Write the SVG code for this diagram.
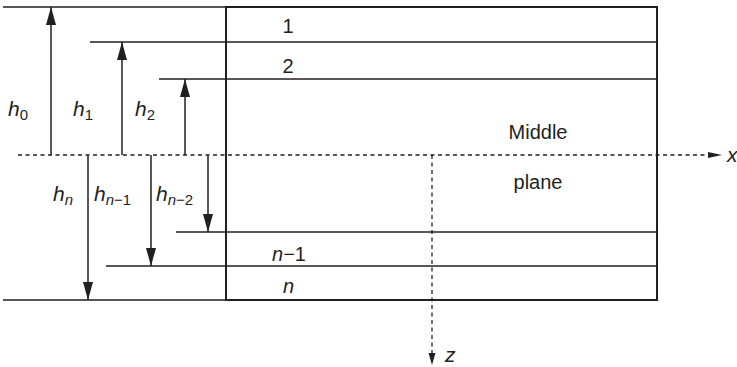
<svg xmlns="http://www.w3.org/2000/svg" width="737" height="367" viewBox="0 0 737 367">
<style>
.ln{stroke:#231f20;stroke-width:1.5;fill:none}
.box{stroke:#231f20;stroke-width:2;fill:#fff}
.dash{stroke:#231f20;stroke-width:1.3;stroke-dasharray:4 3.5;fill:none}
.t{font-family:"Liberation Sans",Arial,sans-serif;font-size:20px;fill:#231f20}
.hl{font-family:"Liberation Sans",Arial,sans-serif;font-size:21px;font-style:italic;fill:#231f20}
.sub{font-size:15px;font-style:normal}
.it{font-style:italic}
.up{stroke:#231f20;stroke-width:1.5;marker-end:url(#ah)}
</style>
<defs>
<marker id="ah" viewBox="0 0 18 10" refX="18" refY="5" markerWidth="18" markerHeight="10" markerUnits="userSpaceOnUse" orient="auto"><path d="M0,0 L18,5 L0,10 Z" fill="#231f20"/></marker>
</defs>
<rect id="laminate" class="box" x="226" y="7" width="431" height="293"/>
<g id="interfaces">
<line class="ln" x1="3" y1="7" x2="657" y2="7"/>
<line class="ln" x1="90" y1="42" x2="657" y2="42"/>
<line class="ln" x1="159" y1="79" x2="657" y2="79"/>
<line class="ln" x1="176" y1="232" x2="657" y2="232"/>
<line class="ln" x1="106" y1="266" x2="657" y2="266"/>
<line class="ln" x1="3" y1="300" x2="657" y2="300"/>
</g>
<g id="layer-1"><text class="t" x="288" y="33" text-anchor="middle">1</text></g>
<g id="layer-2"><text class="t" x="288" y="73" text-anchor="middle">2</text></g>
<g id="middle-plane">
<text class="t" x="538" y="139" text-anchor="middle" font-size="21">Middle</text>
<text class="t" x="538" y="189" text-anchor="middle" font-size="21">plane</text>
</g>
<g id="layer-n-1"><text class="t" x="272" y="261"><tspan class="it">n</tspan>−1</text></g>
<g id="layer-n"><text class="t it" x="283" y="293">n</text></g>
<g id="axes">
<line class="dash" x1="18" y1="155" x2="708" y2="155"/>
<path d="M708,152 L722,155 L708,158 Z" fill="#231f20"/>
<text class="hl" x="727" y="162" font-size="18">x</text>
<line class="dash" x1="432" y1="155" x2="432" y2="353"/>
<path d="M428.5,353 L432,365 L435.5,353 Z" fill="#231f20"/>
<text class="hl" x="445" y="362" font-size="18">z</text>
</g>
<g id="connectors">
<line class="up" x1="51" y1="155" x2="51" y2="7"/>
<line class="up" x1="122" y1="155" x2="122" y2="42"/>
<line class="up" x1="185" y1="155" x2="185" y2="79"/>
<line class="up" x1="88" y1="155" x2="88" y2="300"/>
<line class="up" x1="151" y1="155" x2="151" y2="266"/>
<line class="up" x1="208" y1="155" x2="208" y2="232"/>
</g>
<g id="labels">
<text class="hl" x="8" y="116">h<tspan class="sub" dy="4">0</tspan></text>
<text class="hl" x="73" y="116">h<tspan class="sub" dy="4">1</tspan></text>
<text class="hl" x="135" y="116">h<tspan class="sub" dy="4">2</tspan></text>
<text class="hl" x="53" y="201">h<tspan class="sub it" dy="4">n</tspan></text>
<text class="hl" x="94" y="201">h<tspan class="sub" dy="4"><tspan class="it">n</tspan>−1</tspan></text>
<text class="hl" x="156" y="201">h<tspan class="sub" dy="4"><tspan class="it">n</tspan>−2</tspan></text>
</g>
</svg>
